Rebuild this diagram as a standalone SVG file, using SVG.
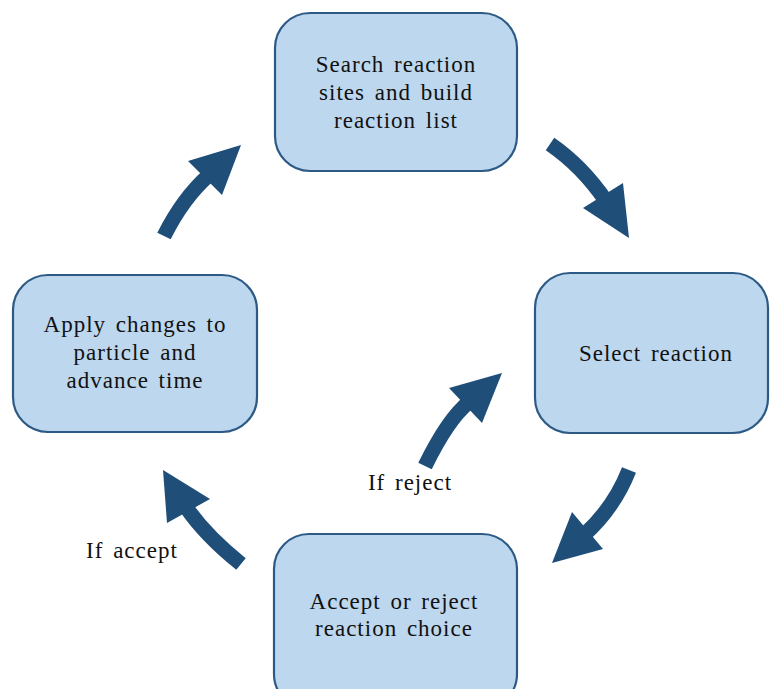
<svg xmlns="http://www.w3.org/2000/svg" width="770" height="689" viewBox="0 0 770 689">
<style>
.box{fill:#BDD7EE;stroke:#2C5A85;stroke-width:2.2}
.t{font-family:"Liberation Serif","Times New Roman",serif;font-size:23px;fill:#111;text-anchor:middle;letter-spacing:1px;word-spacing:3px}
.shaft{fill:none;stroke:#1F4E79;stroke-width:15}
.head{fill:#1F4E79}
</style>
<rect width="770" height="689" fill="#fff"/>
<g id="search">
<rect class="box" x="275" y="13" width="242" height="158" rx="35"/>
<text class="t" x="396" y="72">Search reaction</text>
<text class="t" x="396" y="100">sites and build</text>
<text class="t" x="396" y="128">reaction list</text>
</g>
<g id="select">
<rect class="box" x="535" y="273" width="233" height="160" rx="35"/>
<text class="t" x="656" y="361">Select reaction</text>
</g>
<g id="accept-reject">
<rect class="box" x="274" y="534" width="243" height="175" rx="35"/>
<text class="t" x="394" y="609">Accept  or reject</text>
<text class="t" x="394" y="636">reaction choice</text>
</g>
<g id="apply">
<rect class="box" x="13" y="275" width="244" height="157" rx="35"/>
<text class="t" x="135" y="332">Apply changes to</text>
<text class="t" x="135" y="360">particle and</text>
<text class="t" x="135" y="388">advance time</text>
</g>
<g id="connectors">
<path class="shaft" d="M550,144 Q582,166 606,201"/>
<polygon class="head" points="583,208 623,183 629,238"/>
<path class="shaft" d="M629,470 Q614,508 584,535"/>
<polygon class="head" points="572,512 603,549 552,563"/>
<path class="shaft" d="M241,564 Q205,535 186,507"/>
<polygon class="head" points="167,523 210,499 163,470"/>
<path class="shaft" d="M164,236 Q183,198 209,175"/>
<polygon class="head" points="188,161 222,195 241,145"/>
<path class="shaft" d="M425,466 Q448,419 469,402"/>
<polygon class="head" points="449,388 482,423 502,373"/>
<text class="t" x="410" y="490">If reject</text>
<text class="t" x="132" y="558">If accept</text>
</g>
</svg>
